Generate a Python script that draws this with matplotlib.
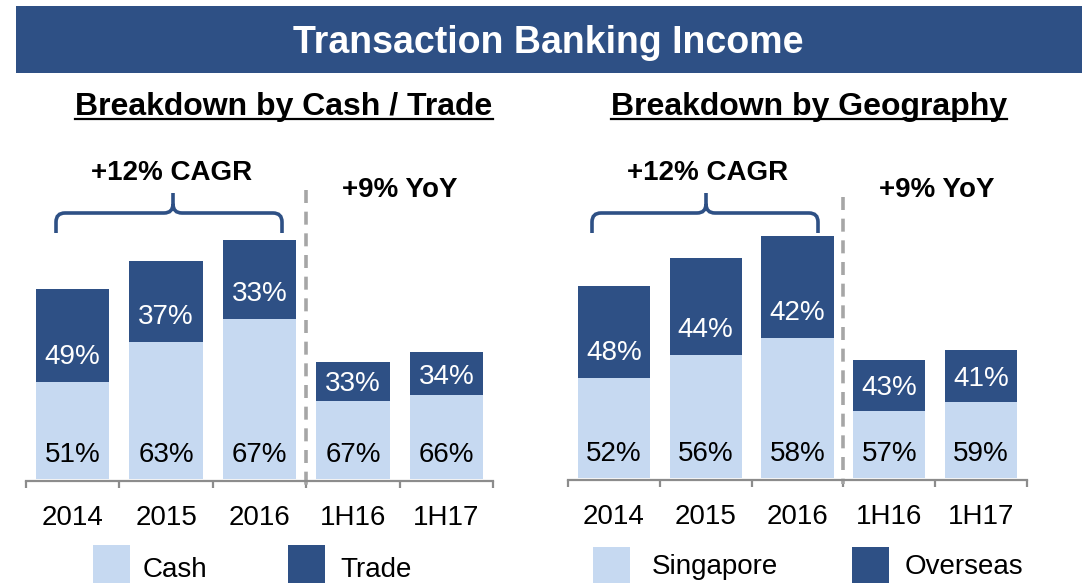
import matplotlib
matplotlib.use("Agg")
import matplotlib.pyplot as plt
import matplotlib.patches as patches
from matplotlib.path import Path
from matplotlib.transforms import Affine2D, blended_transform_factory

plt.rcParams["font.family"] = ["Liberation Sans", "DejaVu Sans"]

# Transaction banking income, indexed to 2014 = 100
periods = ["2014", "2015", "2016", "1H16", "1H17"]
income = [100, 114.7, 125.8, 61.6, 66.8]

cash_pct = [51, 63, 67, 67, 66]
trade_pct = [49, 37, 33, 33, 34]
singapore_pct = [52, 56, 58, 57, 59]
overseas_pct = [48, 44, 42, 43, 41]

LIGHT = "#C6D9F1"
DARK = "#2E5085"
AXIS_GREY = "#8C8C8C"
DASH_GREY = "#A6A6A6"

W, H = 1082, 583
fig = plt.figure(figsize=(W / 100, H / 100), dpi=100)
# pixel coordinates measured from the top-left corner
px = Affine2D().scale(1 / W, -1 / H).translate(0, 1) + fig.transFigure


def brace(x0, x1, xm, y_bar=213, y_end=233, y_tip=193, r=9):
    verts = [(x0, y_end), (x0, y_bar + r), (x0, y_bar), (x0 + r, y_bar),
             (xm - r, y_bar), (xm, y_bar), (xm, y_bar - r), (xm, y_tip),
             (xm, y_bar - r), (xm, y_bar), (xm + r, y_bar),
             (x1 - r, y_bar), (x1, y_bar), (x1, y_bar + r), (x1, y_end)]
    codes = [Path.MOVETO, Path.LINETO, Path.CURVE3, Path.CURVE3,
             Path.LINETO, Path.CURVE3, Path.CURVE3, Path.LINETO,
             Path.MOVETO, Path.CURVE3, Path.CURVE3,
             Path.LINETO, Path.CURVE3, Path.CURVE3, Path.LINETO]
    fig.add_artist(patches.PathPatch(Path(verts, codes), transform=px,
                                     fill=False, edgecolor=DARK, lw=2.6,
                                     capstyle="butt"))


def panel(x_left, x_right, baseline, scale, lower_pct, upper_pct,
          brace_x, cagr_x, yoy_x, divider_top):
    ax = fig.add_axes([x_left / W, (H - baseline) / H,
                       (x_right - x_left) / W, 339 / H])
    xs = range(len(periods))
    lower = [t * p / 100 for t, p in zip(income, lower_pct)]
    upper = [t * p / 100 for t, p in zip(income, upper_pct)]
    ax.bar(xs, lower, width=0.785, color=LIGHT)
    ax.bar(xs, upper, bottom=lower, width=0.785, color=DARK)

    for x, lo, up, lp, upc in zip(xs, lower, upper, lower_pct, upper_pct):
        ax.text(x, 27 / scale, f"{lp}%", ha="center", va="center_baseline",
                fontsize=20, color="black")
        ax.text(x, lo + min(up / 2, 28 / scale), f"{upc}%", ha="center",
                va="center_baseline", fontsize=20, color="white")

    ax.set_xlim(-0.5, len(periods) - 0.5)
    ax.set_ylim(0, 339 / scale)
    for side in ("left", "right", "top"):
        ax.spines[side].set_visible(False)
    ax.spines["bottom"].set_color(AXIS_GREY)
    ax.spines["bottom"].set_linewidth(1.6)
    ax.spines["bottom"].set_position(("outward", 1.5))
    ax.set_yticks([])
    ax.set_xticks([i - 0.5 for i in range(len(periods) + 1)])
    ax.set_xticklabels([])
    ax.tick_params(axis="x", which="major", length=5, width=1.6,
                   color=AXIS_GREY, direction="out")
    ax.set_xticks(list(xs), minor=True)
    ax.set_xticklabels(periods, minor=True, fontsize=20)
    ax.tick_params(axis="x", which="minor", length=0, pad=17)

    # divider between full years and half years
    div = blended_transform_factory(ax.transData, px)
    ax.plot([2.5, 2.5], [divider_top, baseline + 6], transform=div,
            color=DASH_GREY, lw=2.6, ls=(0, (3.6, 2.4)), clip_on=False)

    brace(*brace_x)
    fig.text(cagr_x, 170, "+12% CAGR", transform=px, ha="center",
             va="center_baseline", fontsize=20, fontweight="bold")
    fig.text(yoy_x, 187, "+9% YoY", transform=px, ha="center",
             va="center_baseline", fontsize=20, fontweight="bold")
    return ax


panel(26, 493, 479, 1.90, cash_pct, trade_pct,
      (56, 282, 173), 172, 400, 190)
panel(568, 1027, 478, 1.92, singapore_pct, overseas_pct,
      (592, 818, 706), 708, 937, 197)

# title banner
fig.add_artist(patches.Rectangle((16, 73), W - 16, -67, transform=px,
                                 facecolor=DARK, edgecolor="none"))
fig.text(548, 53, "Transaction Banking Income", transform=px, ha="center",
         va="baseline", fontsize=27, fontweight="bold", color="white")

subtitles = []
for cx, label in [(284, "Breakdown by Cash / Trade"),
                  (809, "Breakdown by Geography")]:
    subtitles.append(fig.text(cx, 115, label, transform=px, ha="center",
                              va="baseline", fontsize=23,
                              fontweight="bold"))

# legends
for box_x, text_x, text_y, top, label, color in [
        (93, 143, 577, 545, "Cash", LIGHT),
        (288, 340, 577, 545, "Trade", DARK),
        (593, 652, 574, 547, "Singapore", LIGHT),
        (852, 905, 574, 547, "Overseas", DARK)]:
    fig.add_artist(patches.Rectangle((box_x, top), 37, 40, transform=px,
                                     facecolor=color, edgecolor="none"))
    fig.text(text_x, text_y, label, transform=px, ha="left",
             va="baseline", fontsize=20)

# underline the subtitles
fig.canvas.draw()
renderer = fig.canvas.get_renderer()
for t in subtitles:
    bb = t.get_window_extent(renderer)
    x0, x1 = bb.x0 / W, bb.x1 / W
    y = (H - 119) / H
    fig.add_artist(plt.Line2D([x0, x1], [y, y], transform=fig.transFigure,
                              color="black", lw=1.6))

fig.savefig("out.png", dpi=100)
